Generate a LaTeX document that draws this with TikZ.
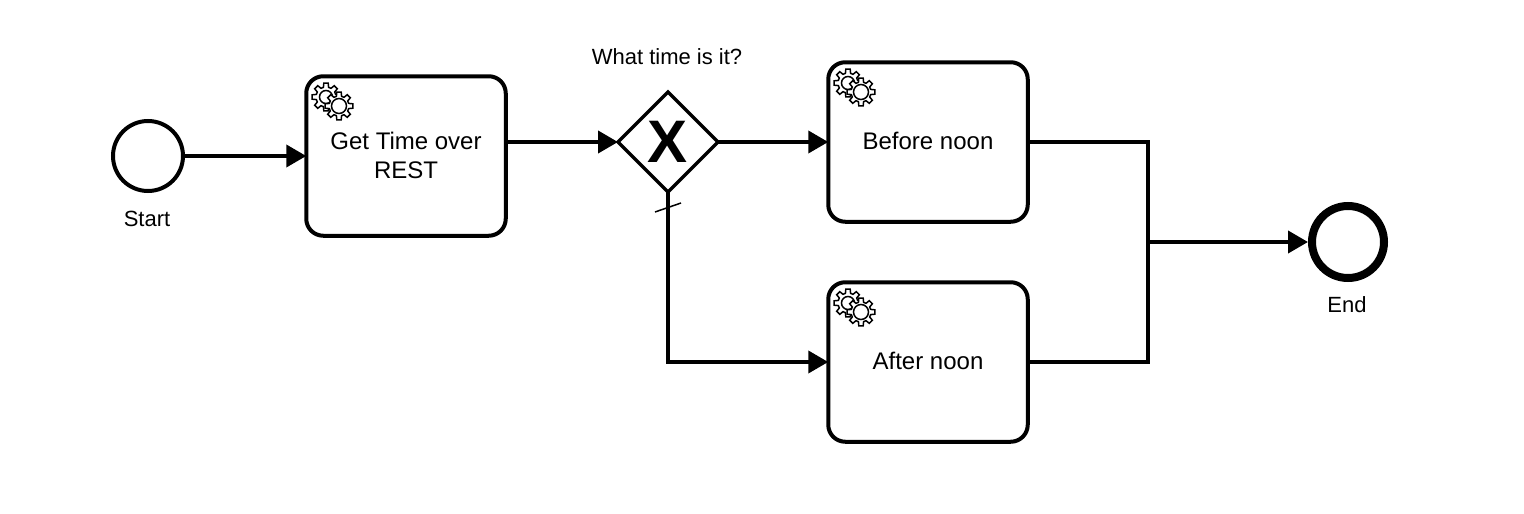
\documentclass[tikz,border=0pt]{standalone}
\usepackage{fontspec}
\setmainfont{Liberation Sans}
\usetikzlibrary{arrows.meta,shapes.geometric}

\newcommand{\gearpath}{
(-14:10) \foreach \a in {0,45,...,315} {
-- (\a-15:10) -- (\a-9:14) -- (\a+9:14) -- (\a+15:10)
} -- cycle}

\tikzset{
flow/.style={line width=4pt,-{Triangle[length=20pt,width=22pt]}},
plainflow/.style={line width=4pt},
event/.style={circle,draw,line width=4pt,fill=white,minimum size=70pt,inner sep=0},
task/.style={rectangle,draw,line width=4pt,rounded corners=17pt,fill=white,outer sep=0,
minimum width=199.5pt,minimum height=159.5pt,align=center,inner sep=0,text depth=1.5pt,
font=\fontsize{24}{28.5}\selectfont},
label/.style={font=\fontsize{22}{26}\selectfont,inner sep=0},
pics/servicegear/.style={code={
\draw[line width=1.5pt,fill=white,shift={(-13,-9)}] \gearpath;
\draw[line width=1.5pt,shift={(-13,-9)}] (0,0) circle (6.5);
\draw[line width=1.5pt,fill=white] \gearpath;
\draw[line width=1.5pt] (0,0) circle (7.5);
}}
}

\begin{document}
\begin{tikzpicture}[x=1pt,y=-1pt]

\useasboundingbox (0,0) rectangle (1524,514);

\node[event] (start) at (148,156) {};
\node[label] (startlabel) at (147,219) {Start};

\node[task] (gettime) at (406,156) {Get Time over\\REST};
\node[task] (before) at (928,142) {Before noon};
\node[task] (after) at (928,362) {After noon};

\node[diamond,draw,line width=3.4pt,fill=white,minimum width=100pt,minimum height=100pt,
inner sep=0,outer sep=0,font=\fontsize{60}{60}\bfseries\selectfont] (gateway) at (668,142) {X};
\node[label] (gatewaylabel) at (667,57) {What time is it?};

\node[event,line width=8pt,minimum size=72pt] (finish) at (1348,242) {};
\node[label] (finishlabel) at (1347,305) {End};

\coordinate (merge) at (1148,242);
\coordinate (slash1) at (655,212);
\coordinate (slash2) at (681,203);

\draw[flow] (start) -- (gettime.west |- start);
\draw[flow] (gettime.east |- gateway) -- (gateway);
\draw[flow] (gateway) -- (before.west |- gateway);
\draw[flow] (gateway) |- (after);
\draw[plainflow] (before.east |- gateway) -| (merge);
\draw[plainflow] (after) -| (merge);
\draw[flow] (merge) -- (finish);
\draw[line width=1.5pt] (slash1) -- (slash2);

\foreach \n/\x/\y in {gettime/339/106, before/861/92, after/861/312} {
\pic at (\x,\y) {servicegear};
};

\end{tikzpicture}
\end{document}
